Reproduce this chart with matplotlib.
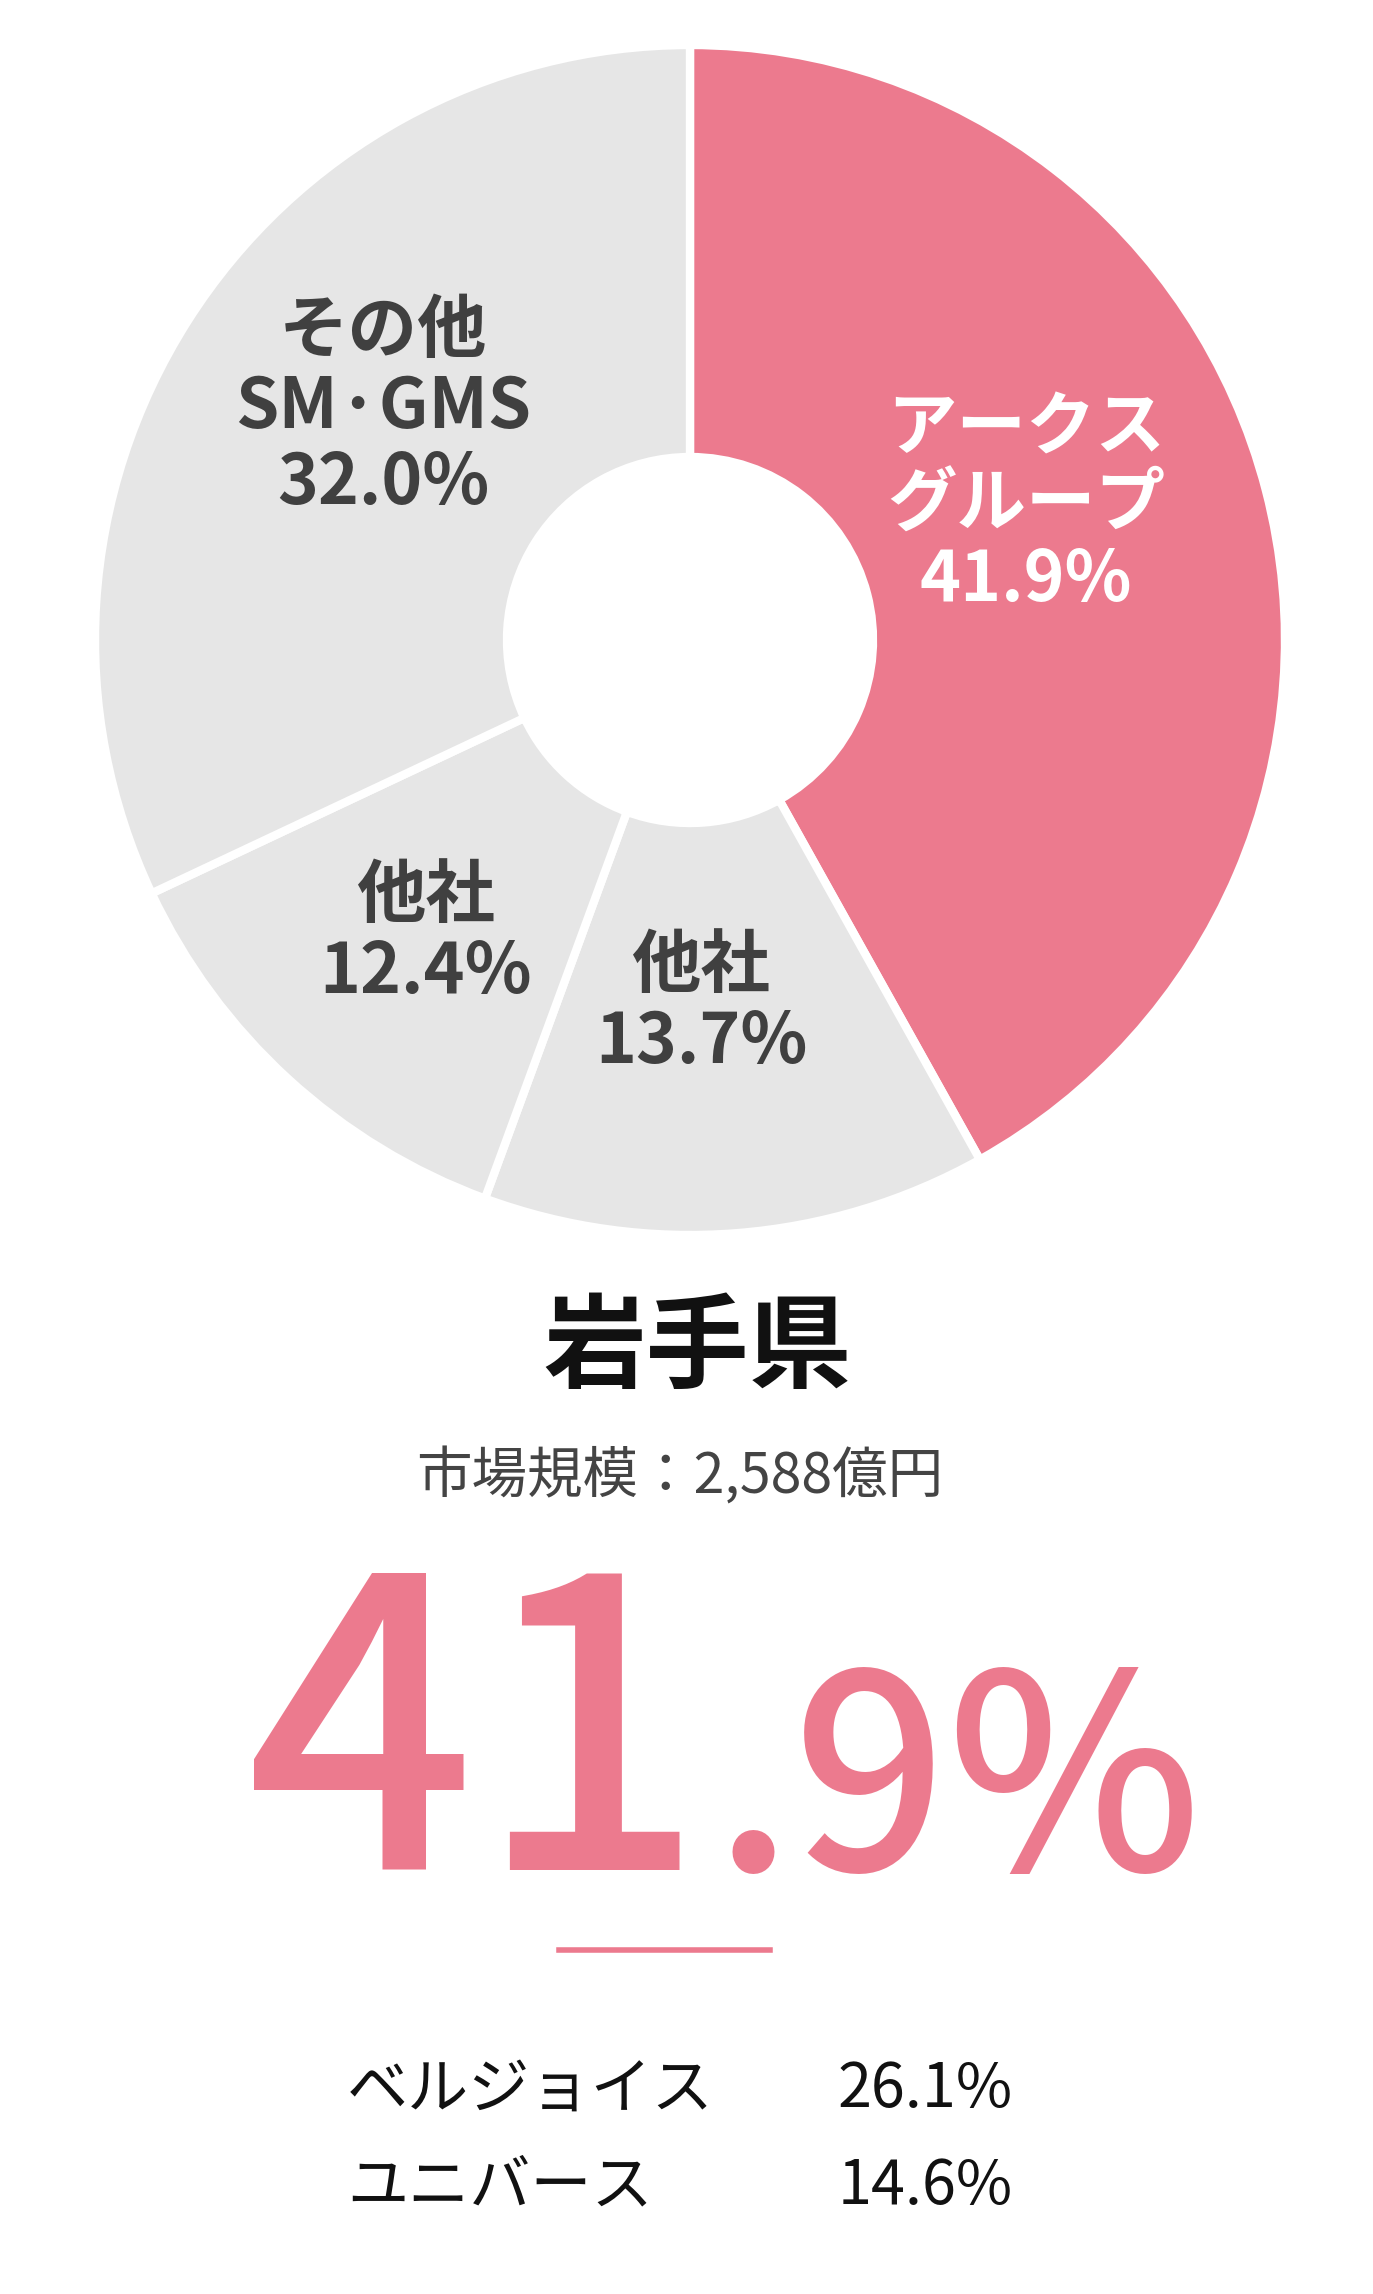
import matplotlib
matplotlib.use("Agg")
import matplotlib.pyplot as plt

labels = ["アークス\nグループ\n41.9%", "他社\n13.7%", "他社\n12.4%", "その他\nSM·GMS\n32.0%"]
values = [41.9, 13.7, 12.4, 32.0]
colors = ["#EC7A8E", "#E6E6E6", "#E6E6E6", "#E6E6E6"]
label_colors = ["white", "#404040", "#404040", "#404040"]
label_pos = [(1026, 505), (701, 1005), (426, 935), (383, 408)]
title = "岩手県"
market = "市場規模：2,588億円"
big_int, big_dec = "41", ".9%"
others = ["ベルジョイス", "ユニバース"]
others_vals = ["26.1%", "14.6%"]

W, H = 1373, 2294
fig = plt.figure(figsize=(W/100, H/100), dpi=100)
ax = fig.add_axes([0, 0, 1, 1])
ax.set_xlim(0, W); ax.set_ylim(0, H); ax.set_aspect("equal"); ax.axis("off")
Y = lambda y: H - y
F = "Noto Sans CJK JP"

ax.pie(values, colors=colors, startangle=90, counterclock=False,
       center=(690, Y(640)), radius=595,
       wedgeprops=dict(width=595-183, edgecolor="white", linewidth=6))
ax.set_xlim(0, W); ax.set_ylim(0, H)

for lab, (x, y), c in zip(labels, label_pos, label_colors):
    ax.text(x, Y(y), lab, ha="center", va="center", fontsize=50, fontweight="bold",
            color=c, family=F, linespacing=1.1)

ax.text(697, Y(1350), title, ha="center", va="center", fontsize=74, fontweight="bold",
        color="#111111", family=F)
ax.text(680, Y(1478), market, ha="center", va="center", fontsize=40, color="#444444", family=F)
pink = "#EC7A8E"
ax.text(705, Y(1870), big_int, ha="right", va="baseline", fontsize=290, fontweight="medium",
        color=pink, family=F)
ax.text(712, Y(1870), big_dec, ha="left", va="baseline", fontsize=195, fontweight="medium",
        color=pink, family=F)
ax.plot([559, 770], [Y(1950), Y(1950)], color=pink, lw=4)
for i, (n, v) in enumerate(zip(others, others_vals)):
    y = Y(2090 + i*97)
    ax.text(347, y, n, ha="left", va="center", fontsize=44, color="#111111", family=F)
    ax.text(838, y, v, ha="left", va="center", fontsize=44, color="#111111", family=F)

fig.savefig("out.png", dpi=100, facecolor="white")
